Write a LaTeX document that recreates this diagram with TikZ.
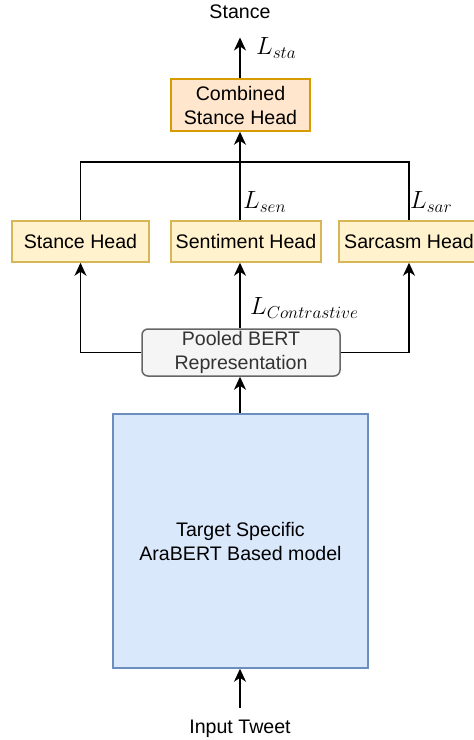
\documentclass[tikz,border=0pt]{standalone}
\usepackage{fontspec}
\setmainfont{Liberation Sans}
\usetikzlibrary{arrows.meta}

\definecolor{headfill}{HTML}{FFF2CC}
\definecolor{headdraw}{HTML}{D6B656}
\definecolor{combfill}{HTML}{FFE6CC}
\definecolor{combdraw}{HTML}{D79B00}
\definecolor{poolfill}{HTML}{F5F5F5}
\definecolor{pooldraw}{HTML}{666666}
\definecolor{pooltext}{HTML}{333333}
\definecolor{modelfill}{HTML}{DAE8FC}
\definecolor{modeldraw}{HTML}{6C8EBF}

\begin{document}
\begin{tikzpicture}[
  x=1pt, y=-1pt,
  >={Stealth[length=13pt, width=12pt, inset=4pt]},
  font=\fontsize{19.6}{24}\selectfont,
  box/.style={draw, line width=1.5pt, align=center, inner sep=0pt},
  head/.style={box, draw=headdraw, fill=headfill, minimum height=41pt},
  arrow/.style={->, line width=1.6pt},
  wire/.style={line width=1.6pt},
  loss/.style={font=\fontsize{25}{30}\selectfont, inner sep=0pt}
]
\useasboundingbox (0,0) rectangle (474,740);

% model and input
\node[box, draw=modeldraw, fill=modelfill, minimum width=255pt, minimum height=254pt] (model) at (240.5,541) {Target Specific\\AraBERT Based model};
\node (input) at (240,729) {Input Tweet};
\node[box, draw=pooldraw, fill=poolfill, text=pooltext, rounded corners=6pt, minimum width=198pt, minimum height=47pt] (pooled) at (241,352.5) {Pooled BERT\\Representation};

% task heads
\node[head, minimum width=137pt] (stanceh) at (80.5,241.5) {Stance Head};
\node[head, minimum width=150pt] (senti) at (246,241.5) {Sentiment Head};
\node[head, minimum width=140pt] (sarc) at (409,241.5) {Sarcasm Head};

\node[box, draw=combdraw, fill=combfill, minimum width=139pt, minimum height=52pt] (comb) at (240.5,105) {Combined\\Stance Head};
\node (out) at (240,12) {Stance};
\coordinate (join) at (240,162);

\draw[arrow] (input.north -| join) ++(0,-9) coordinate (inp) -- (inp |- model.south);
\draw[arrow] (model.north -| join) -- (pooled.south -| join);
\draw[arrow] (pooled.north -| join) -- (senti.south -| join);
\draw[arrow] (pooled.west) -| (stanceh.south);
\draw[arrow] (pooled.east) -| (sarc.south);
\draw[wire] (stanceh.north) |- (join);
\draw[wire] (sarc.north) |- (join);
\draw[arrow] (senti.north -| join) -- (comb.south -| join);
\draw[arrow, shorten >=15pt] (comb.north -| join) -- (out.south -| join);

\node[loss, anchor=west] at (256,48) {$L_{sta}$};
\node[loss, anchor=south west, xshift=3pt, yshift=8pt] at (senti.north -| join) {$L_{sen}$};
\node[loss, anchor=south west, xshift=1pt, yshift=8pt] at (sarc.north) {$L_{sar}$};
\node[loss, anchor=south west, xshift=10pt, yshift=10pt] at (pooled.north -| join) {$L_{Contrastive}$};
\end{tikzpicture}
\end{document}
